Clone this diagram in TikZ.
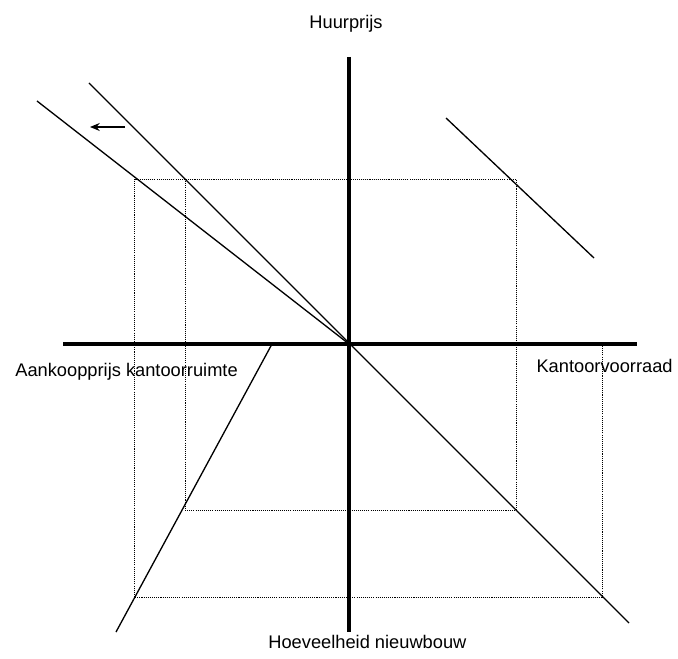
\documentclass[tikz,border=0pt]{standalone}
\usepackage{fontspec}
\setmainfont{Liberation Sans}
\usetikzlibrary{arrows.meta}
\tikzset{
  axisline/.style={line width=2.3pt},
  curveline/.style={line width=0.75pt},
  guideline/.style={line width=0.5pt,dash pattern=on 0.6pt off 0.6pt},
  axislabel/.style={inner sep=0pt,font=\fontsize{10.4}{12}\selectfont}
}

\begin{document}
\begin{tikzpicture}[x=0.02cm,y=-0.02cm]
    \useasboundingbox (0,0) rectangle (678,658);
    \coordinate (O) at (349,344);
    \coordinate (ytop) at (349,57);
    \coordinate (ybot) at (349,632);
    \coordinate (xleft) at (63,344);
    \coordinate (xright) at (637,344);
    % punten van het spinnenweb
    \foreach \n/\x/\y in {p1/134/179,p2/185/179,p3/516/179,p4/185/510,p5/516/510,p6/134/597,p7/602/597,p8/602/344}{
      \coordinate (\n) at (\x,\y);
    }
    \draw[guideline] (p3) -- (p1) -- (p6) -- (p7) -- (p8);
    \draw[guideline] (p2) -- (p4) -- (p5) -- (p3);
    % assen
    \draw[axisline] (ytop) -- (ybot);
    \draw[axisline] (xleft) -- (xright);
    % lijnen in de vier kwadranten
    \coordinate (a1) at (89,83);
    \coordinate (a2) at (629,623);
    \coordinate (b1) at (37,101);
    \coordinate (c1) at (446,118);
    \coordinate (c2) at (594,258);
    \coordinate (d1) at (272,344);
    \coordinate (d2) at (116,632);
    \draw[curveline] (a1) -- (a2);
    \draw[curveline] (b1) -- (O);
    \draw[curveline] (c1) -- (c2);
    \draw[curveline] (d1) -- (d2);
    \coordinate (shiftfrom) at (125,127);
    \coordinate (shiftto) at (90,127);
    \draw[line width=1.1pt,-{Stealth[length=5.5pt,width=4.5pt]}] (shiftfrom) -- (shiftto);
    % labels
    \node[axislabel,anchor=base] (huur) at (346,29) {Huurprijs};
    \node[axislabel,anchor=base west] (aankoop) at (15,376) {Aankoopprijs kantoorruimte};
    \node[axislabel,anchor=base east] (voorraad) at (673,372) {Kantoorvoorraad};
    \node[axislabel,anchor=base west] (nieuwbouw) at (268,648) {Hoeveelheid nieuwbouw};
\end{tikzpicture}
\end{document}
